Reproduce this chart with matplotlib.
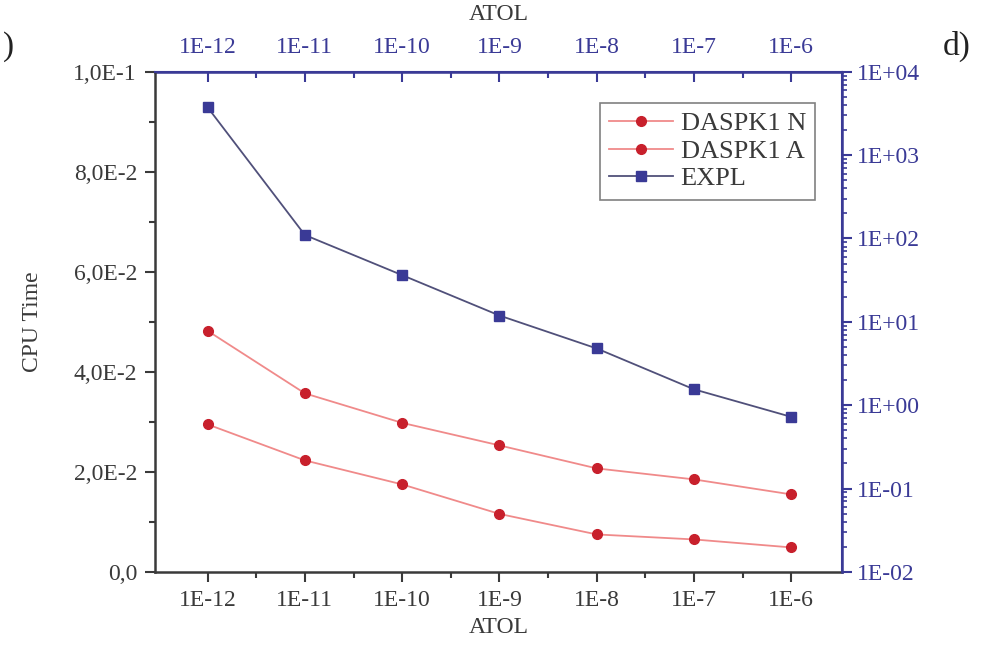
import matplotlib
matplotlib.use("Agg")
import matplotlib.pyplot as plt
import matplotlib.ticker as mt

# ---- data ----
atol = [1e-12, 1e-11, 1e-10, 1e-9, 1e-8, 1e-7, 1e-6]
atol_labels = ["1E-12", "1E-11", "1E-10", "1E-9", "1E-8", "1E-7", "1E-6"]
daspk_n = [0.0482, 0.0357, 0.0298, 0.0253, 0.0207, 0.0185, 0.0155]
daspk_a = [0.0295, 0.0223, 0.0175, 0.0116, 0.0075, 0.0065, 0.0049]
expl = [3740, 110, 36.3, 11.9, 4.79, 1.55, 0.724]

left_ticks = [0.0, 0.02, 0.04, 0.06, 0.08, 0.10]
left_labels = ["0,0", "2,0E-2", "4,0E-2", "6,0E-2", "8,0E-2", "1,0E-1"]
right_ticks = [1e-2, 1e-1, 1e0, 1e1, 1e2, 1e3, 1e4]
right_labels = ["1E-02", "1E-01", "1E+00", "1E+01", "1E+02", "1E+03", "1E+04"]

plt.rcParams['font.family'] = ['Liberation Serif', 'DejaVu Serif']

dark = '#3a3a3a'
navy = '#3a3a96'
red = '#c8202c'
pink = '#f08a8a'
fs = 17

fig = plt.figure(figsize=(9.94, 6.67), dpi=100)
ax = fig.add_axes([0.156, 0.1425, 0.691, 0.750])

ax.plot(atol, daspk_n, color=pink, lw=1.3, marker='o', ms=7,
        mfc=red, mec=red, label='DASPK1 N')
ax.plot(atol, daspk_a, color=pink, lw=1.3, marker='o', ms=7,
        mfc=red, mec=red, label='DASPK1 A')

ax.set_xscale('log')
ax.set_xlim(10 ** -12.54, 10 ** -5.48)
ax.set_ylim(0, 0.1)
ax.set_xticks(atol)
ax.set_xticklabels(atol_labels)
ax.xaxis.set_minor_locator(mt.FixedLocator([10 ** (k + 0.5) for k in range(-12, -6)]))
ax.xaxis.set_minor_formatter(mt.NullFormatter())
ax.set_yticks(left_ticks)
ax.set_yticklabels(left_labels)
ax.yaxis.set_minor_locator(mt.MultipleLocator(0.01))

ax.tick_params(axis='both', which='major', direction='out', length=7, width=1.5,
               colors=dark, labelsize=fs, pad=6)
ax.tick_params(axis='both', which='minor', direction='out', length=4, width=1.5,
               colors=dark)
ax.tick_params(axis='x', top=False)
for s in ['left', 'bottom']:
    ax.spines[s].set_color(dark)
    ax.spines[s].set_linewidth(1.8)
for s in ['top', 'right']:
    ax.spines[s].set_color(navy)
    ax.spines[s].set_linewidth(1.5)

ax.set_ylabel('CPU Time', fontsize=fs, color=dark, labelpad=22)
ax.set_xlabel('ATOL', fontsize=fs, color=dark, labelpad=4)

# right log axis for EXPL
ax2 = ax.twinx()
ax2.plot(atol, expl, color='#50507a', lw=1.3, marker='s', ms=6.5,
         mfc=navy, mec=navy, label='EXPL')
ax2.set_yscale('log')
ax2.set_ylim(1e-2, 1e4)
ax2.set_yticks(right_ticks)
ax2.set_yticklabels(right_labels)
ax2.yaxis.set_minor_locator(mt.LogLocator(base=10, subs=range(2, 10), numticks=20))
ax2.yaxis.set_minor_formatter(mt.NullFormatter())
ax2.tick_params(axis='y', which='major', direction='out', length=7, width=1.5,
                colors=navy, labelsize=fs, pad=4)
ax2.tick_params(axis='y', which='minor', direction='out', length=3.5, width=1.2,
                colors=navy)
for s in ['left', 'bottom']:
    ax2.spines[s].set_visible(False)
ax2.spines['right'].set_color(navy)
ax2.spines['right'].set_linewidth(1.8)
ax2.spines['top'].set_color(navy)

# top axis, same ATOL values
top = ax.secondary_xaxis('top')
top.set_xticks(atol)
top.set_xticklabels(atol_labels)
top.xaxis.set_minor_locator(mt.FixedLocator([10 ** (k + 0.5) for k in range(-12, -6)]))
top.tick_params(axis='x', which='major', direction='in', length=7, width=1.5,
                colors=navy, labelsize=fs, pad=10)
top.tick_params(axis='x', which='minor', direction='in', length=4, width=1.5,
                colors=navy)
top.spines['top'].set_color(navy)
top.spines['top'].set_linewidth(1.8)
top.set_xlabel('ATOL', fontsize=fs, color=dark, labelpad=12)

h1, l1 = ax.get_legend_handles_labels()
h2, l2 = ax2.get_legend_handles_labels()
leg = ax2.legend(h1 + h2, l1 + l2, loc='upper right', bbox_to_anchor=(0.961, 0.938),
                 borderaxespad=0, fontsize=19, frameon=True, fancybox=False,
                 edgecolor='#606060', handlelength=2.4, handletextpad=0.3,
                 borderpad=0.35, labelspacing=0.15)
leg.get_frame().set_linewidth(1.2)
for t in leg.get_texts():
    t.set_color(dark)

fig.text(0.003, 0.93, ')', fontsize=24, color='#222222', va='center', ha='left')
fig.text(0.948, 0.93, 'd)', fontsize=24, color='#222222', va='center', ha='left')

fig.savefig('out.png', dpi=100)
